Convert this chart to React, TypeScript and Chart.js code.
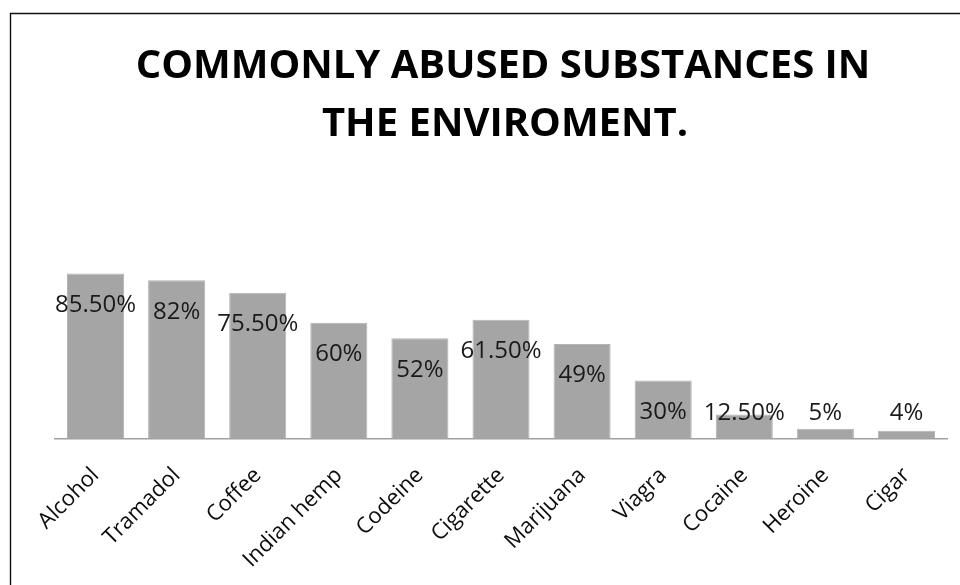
import React, { useEffect, useRef } from "react";
import { Chart, registerables } from "chart.js";

Chart.register(...registerables);

const TITLE_LINES = ["COMMONLY ABUSED SUBSTANCES IN", "THE ENVIROMENT."];
const CATEGORIES = [
  "Alcohol",
  "Tramadol",
  "Coffee",
  "Indian hemp",
  "Codeine",
  "Cigarette",
  "Marijuana",
  "Viagra",
  "Cocaine",
  "Heroine",
  "Cigar",
];
const VALUES = [85.5, 82, 75.5, 60, 52, 61.5, 49, 30, 12.5, 5, 4];
const VALUE_LABELS = ["85.50%", "82%", "75.50%", "60%", "52%", "61.50%", "49%", "30%", "12.50%", "5%", "4%"];
const Y_MIN = 0;
const Y_MAX = 100;

const framePlugin = {
  id: "frame",
  beforeDraw(chart: any) {
    const ctx = chart.ctx;
    ctx.save();
    ctx.fillStyle = "#ffffff";
    ctx.fillRect(0, 0, chart.width, chart.height);
    ctx.strokeStyle = "#111111";
    ctx.lineWidth = 1.4;
    ctx.beginPath();
    ctx.moveTo(10.5, chart.height);
    ctx.lineTo(10.5, 13.5);
    ctx.lineTo(chart.width, 13.5);
    ctx.stroke();
    ctx.restore();
  },
};

const titlePlugin = {
  id: "customTitle",
  afterDraw(chart: any) {
    const ctx = chart.ctx;
    ctx.save();
    ctx.fillStyle = "#000000";
    ctx.font = 'bold 40px "Open Sans"';
    ctx.textAlign = "center";
    ctx.textBaseline = "alphabetic";
    ctx.fillText(TITLE_LINES[0], 503, 78);
    ctx.fillText(TITLE_LINES[1], 505, 136);
    ctx.restore();
  },
};

const valueLabelPlugin = {
  id: "valueLabels",
  afterDatasetsDraw(chart: any) {
    const ctx = chart.ctx;
    const meta = chart.getDatasetMeta(0);
    ctx.save();
    ctx.fillStyle = "#1a1a1a";
    ctx.font = '24px "Open Sans"';
    ctx.textAlign = "center";
    ctx.textBaseline = "alphabetic";
    meta.data.forEach((bar: any, i: number) => {
      const centerY = Math.min(bar.y + 30, bar.base - 27);
      ctx.fillText(VALUE_LABELS[i], bar.x, centerY + 8.5);
    });
    ctx.restore();
  },
};

export default function App() {
  const canvasRef = useRef<HTMLCanvasElement | null>(null);

  useEffect(() => {
    const canvas = canvasRef.current;
    if (!canvas) return;
    const chart = new Chart(canvas, {
      type: "bar",
      data: {
        labels: CATEGORIES,
        datasets: [
          {
            data: VALUES,
            backgroundColor: "#a5a5a5",
            borderColor: "#b4b4b4",
            borderWidth: 1,
            categoryPercentage: 1,
            barPercentage: 0.704,
          },
        ],
      },
      options: {
        responsive: false,
        animation: false,
        layout: { padding: { top: 245.5, left: 55, right: 13, bottom: 0 } },
        plugins: {
          legend: { display: false },
          title: { display: false },
          tooltip: { enabled: false },
        },
        scales: {
          x: {
            grid: { display: false, drawTicks: false },
            border: { display: true, color: "#a0a0a0", width: 1.5 },
            ticks: {
              minRotation: 45,
              maxRotation: 45,
              autoSkip: false,
              padding: 24,
              color: "#0d0d0d",
              font: { family: '"Open Sans"', size: 22 },
            },
            afterFit: (scale: any) => {
              scale.height = 146.5;
            },
          },
          y: {
            display: false,
            min: Y_MIN,
            max: Y_MAX,
          },
        },
      },
      plugins: [framePlugin, titlePlugin, valueLabelPlugin],
    });
    return () => chart.destroy();
  }, []);

  return (
    <div style={{ position: "fixed", left: 0, top: 0, width: 960, height: 585, background: "#fff" }}>
      <canvas ref={canvasRef} width={960} height={585} style={{ display: "block", width: 960, height: 585 }} />
    </div>
  );
}
